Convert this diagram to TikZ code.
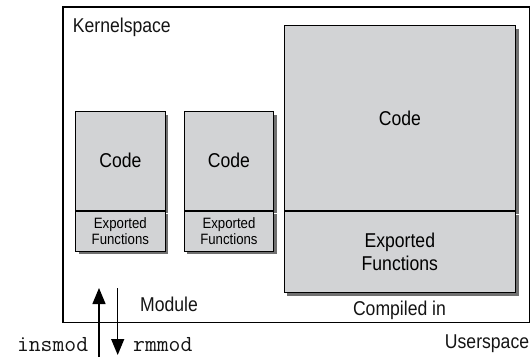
\documentclass[tikz,border=0pt]{standalone}
\usepackage{fontspec}
\setmainfont[FakeStretch=0.88]{Liberation Sans}
\usetikzlibrary{positioning,shadows,arrows.meta}
\definecolor{KSsiva}{HTML}{D2D3D5}
\definecolor{KSsjena}{HTML}{707070}
\begin{document}
\begin{tikzpicture}[x=1pt,y=1pt,font=\fontsize{20}{23}\selectfont,
 KSdio/.style={draw,line width=1pt,fill=KSsiva,inner sep=0pt,align=center,
  drop shadow={shadow xshift=3pt,shadow yshift=-3pt,fill=KSsjena,opacity=1}},
 KSmali/.style={font=\fontsize{15}{16}\selectfont},
 KSmono/.style={font=\fontsize{23}{24}\selectfont\ttfamily},
 KStekst/.style={inner sep=0pt,text=black!92}]
\useasboundingbox (0,0) rectangle (531,357);
\node[draw,line width=1.2pt,minimum width=466.5,minimum height=315.7,inner sep=0pt] (kernel) at (296.25,192.15) {};
\node[KStekst,anchor=base west] (kslab) at (72.7,324.3) {Kernelspace};
% moduli
\node[KSdio,minimum width=89.3,minimum height=98.3] (codeA) at (120.35,196.15) {Code};
\node[KSdio,KSmali,minimum width=89.3,minimum height=40,below=0pt of codeA] (expA) {Exported\\Functions};
\node[KSdio,minimum width=89.3,minimum height=98.3,right=18.3 of codeA] (codeB) {Code};
\node[KSdio,KSmali,minimum width=89.3,minimum height=40,below=0pt of codeB] (expB) {Exported\\Functions};
% compiled in
\node[KSdio,minimum width=231.7,minimum height=185] (codeC) at (399.85,238.8) {Code};
\node[KSdio,minimum width=231.7,minimum height=81,below=0pt of codeC] (expC) {Exported\\Functions};
\node[KStekst,anchor=base] (cilab) at (399.5,42) {Compiled in};
\node[KStekst,anchor=base west] (modlab) at (140,45.3) {Module};
\node[KStekst,anchor=base east] (uslab) at (529.3,8.7) {Userspace};
\node[KStekst,KSmono,anchor=base east] (inslab) at (88.3,6) {insmod};
\node[KStekst,KSmono,anchor=base west] (rmlab) at (133,6) {rmmod};
% strelice
\coordinate (insA) at (99,0);
\coordinate (insB) at (99,69);
\coordinate (rmA) at (117.7,69);
\coordinate (rmB) at (117.7,2);
\draw[line width=1.3pt,-{Triangle[length=16pt,width=13pt]}] (insA) -- (insB);
\draw[line width=1.3pt,-{Triangle[length=16pt,width=13pt]}] (rmA) -- (rmB);
\end{tikzpicture}
\end{document}
